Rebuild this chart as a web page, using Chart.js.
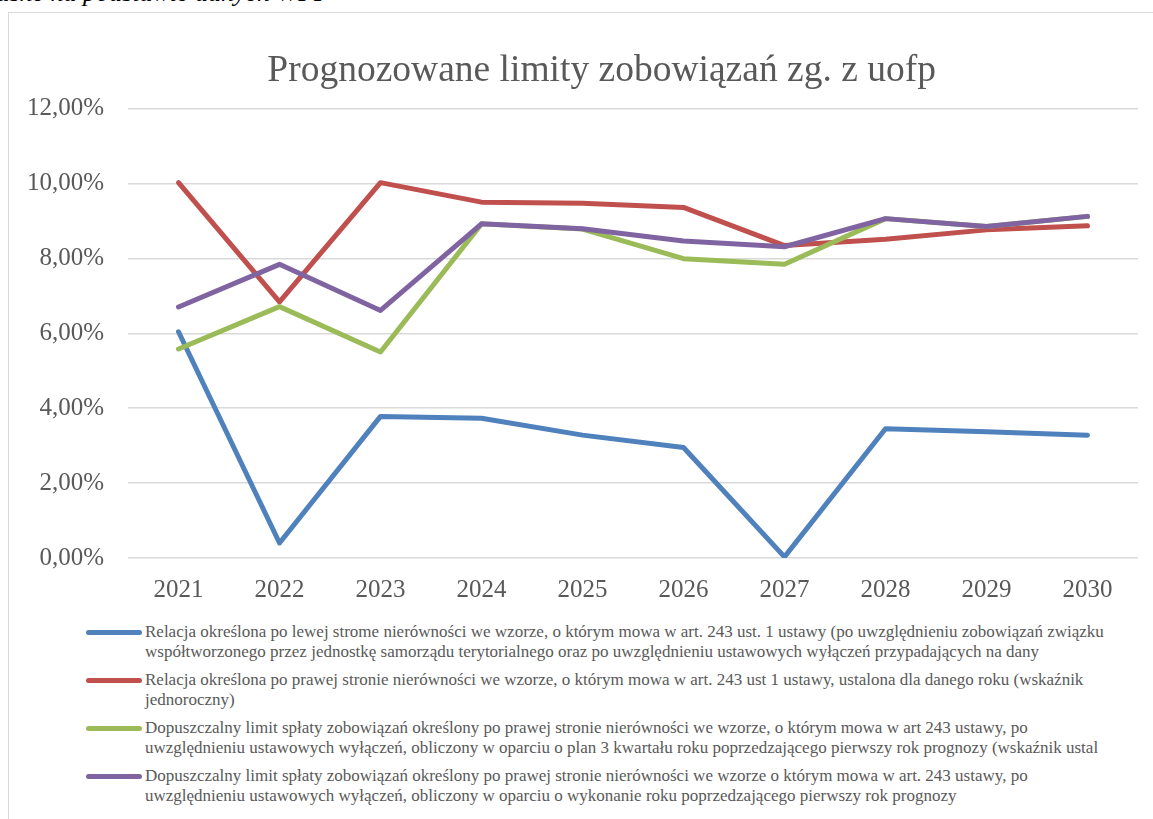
<!DOCTYPE html>
<html>
<head>
<meta charset="utf-8">
<script src="https://cdn.jsdelivr.net/npm/chart.js@4"></script>
<style>
  body { margin: 0; background: #fff; overflow: hidden; }
  #note { position: absolute; left: -470px; top: -22px; width: 800px; text-align: right; white-space: nowrap;
          font: italic 26px "Liberation Serif", serif; color: #000; }
  #box { position: absolute; left: 8px; top: 12px; width: 1160px; height: 830px;
         border: 1px solid #d9d9d9; background: #fff; }
  #wrap { position: absolute; left: 0; top: 0; width: 1145px; height: 600px; }
  #legend { position: absolute; left: 0; top: 609px; width: 1145px;
            font: 17px "Liberation Serif", serif; color: #595959; }
  .item { position: relative; height: 40px; margin-bottom: 8px; }
  .sw { position: absolute; left: 77px; top: 8px; width: 56px; height: 5px; border-radius: 3px; }
  .txt { position: absolute; left: 136px; top: 0; line-height: 20px; white-space: nowrap; }
</style>
</head>
<body>
<div id="note">Źródło: opracowanie własne na podstawie danych WPF</div>
<div id="box">
  <div id="wrap"><canvas id="Plot"></canvas></div>
  <div id="legend"></div>
</div>
<script>
var years = ['2021','2022','2023','2024','2025','2026','2027','2028','2029','2030'];

var lewa = [6.04, 0.40, 3.78, 3.73, 3.28, 2.95, 0.03, 3.45, 3.37, 3.28];
var prawa = [10.02, 6.84, 10.02, 9.50, 9.47, 9.36, 8.34, 8.51, 8.76, 8.87];
var limitPlan = [5.58, 6.71, 5.50, 8.92, 8.78, 7.99, 7.84, 9.06, 8.85, 9.12];
var limitWyk = [6.70, 7.84, 6.61, 8.92, 8.79, 8.46, 8.31, 9.06, 8.85, 9.12];

var yTicks = [0, 2, 4, 6, 8, 10, 12];

var labLewa = ['Relacja określona po lewej strome nierówności we wzorze, o którym mowa w art. 243 ust. 1 ustawy (po uwzględnieniu zobowiązań związku',
  'współtworzonego przez jednostkę samorządu terytorialnego oraz po uwzględnieniu ustawowych wyłączeń przypadających na dany'];
var labPrawa = ['Relacja określona po prawej stronie nierówności we wzorze, o którym mowa w art. 243 ust 1 ustawy, ustalona dla danego roku (wskaźnik',
  'jednoroczny)'];
var labPlan = ['Dopuszczalny limit spłaty zobowiązań określony po prawej stronie nierówności we wzorze, o którym mowa w art 243 ustawy, po',
  'uwzględnieniu ustawowych wyłączeń, obliczony w oparciu o plan 3 kwartału roku poprzedzającego pierwszy rok prognozy (wskaźnik ustal'];
var labWyk = ['Dopuszczalny limit spłaty zobowiązań określony po prawej stronie nierówności we wzorze o którym mowa w art. 243 ustawy, po',
  'uwzględnieniu ustawowych wyłączeń, obliczony w oparciu o wykonanie roku poprzedzającego pierwszy rok prognozy'];

var colors = ['#4F81BD', '#C0504D', '#9BBB59', '#8064A2'];
var series = [lewa, prawa, limitPlan, limitWyk];
var labels = [labLewa, labPrawa, labPlan, labWyk];

var datasets = [];
for (var i = 0; i < series.length; i++) {
  datasets.push({
    label: labels[i].join(' '),
    data: series[i],
    borderColor: colors[i],
    backgroundColor: colors[i],
    borderWidth: 5,
    pointRadius: 0,
    tension: 0,
    borderCapStyle: 'round',
    borderJoinStyle: 'round',
    order: series.length - i
  });
}

var font = '"Liberation Serif", serif';
var ctx = document.getElementById('Plot').getContext('2d');
var myChart = new Chart(ctx, {
  type: 'line',
  data: { labels: years, datasets: datasets },
  options: {
    responsive: true,
    maintainAspectRatio: false,
    animation: false,
    layout: { padding: { left: 0, right: 16, top: 0, bottom: 10 } },
    plugins: {
      legend: { display: false },
      tooltip: { enabled: false },
      title: {
        display: true,
        // leading spaces nudge the centred title to the right like in the original
        text: '      Prognozowane limity zobowiązań zg. z uofp',
        color: '#595959',
        font: { family: font, size: 37.5, weight: 'normal' },
        padding: { top: 36, bottom: 14.5 }
      }
    },
    scales: {
      x: {
        offset: true,
        grid: { display: false },
        border: { display: false },
        ticks: { color: '#595959', font: { family: font, size: 25 }, padding: 9 },
        afterFit: function(s) { s.height = 45; }
      },
      y: {
        min: 0,
        max: 12,
        afterBuildTicks: function(s) { s.ticks = yTicks.map(function(v) { return { value: v }; }); },
        grid: { color: '#d9d9d9', lineWidth: 1.5, drawTicks: false },
        border: { display: false },
        ticks: {
          color: '#595959',
          font: { family: font, size: 25 },
          padding: 24,
          callback: function(v) { return v.toFixed(2).replace('.', ',') + '%'; }
        },
        afterFit: function(s) { s.width = 119; }
      }
    }
  }
});

var leg = document.getElementById('legend');
for (var j = 0; j < labels.length; j++) {
  var item = document.createElement('div');
  item.className = 'item';
  var sw = document.createElement('div');
  sw.className = 'sw';
  sw.style.background = colors[j];
  var t = document.createElement('div');
  t.className = 'txt';
  t.innerHTML = labels[j].join('<br>');
  item.appendChild(sw);
  item.appendChild(t);
  leg.appendChild(item);
}
</script>
</body>
</html>
